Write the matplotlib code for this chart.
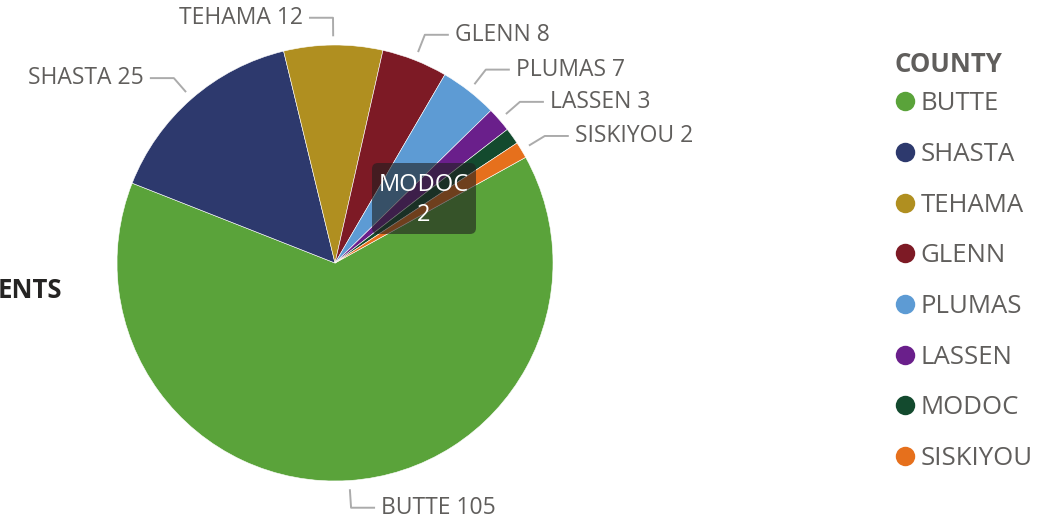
import numpy as np
import matplotlib
matplotlib.use('Agg')
import matplotlib.pyplot as plt
from matplotlib.lines import Line2D
from matplotlib.patches import FancyBboxPatch

plt.rcParams['font.family'] = ['Open Sans', 'DejaVu Sans']

# data
counties = ['BUTTE', 'SHASTA', 'TEHAMA', 'GLENN', 'PLUMAS', 'LASSEN', 'MODOC', 'SISKIYOU']
counts = [105, 25, 12, 8, 7, 3, 2, 2]
colors = ['#5AA33A', '#2D396D', '#B08F20', '#7D1A25', '#5D9BD4', '#6A1F8B', '#134A2E', '#E6701C']
show_label = [True, True, True, True, True, True, False, True]

W, H = 1064, 523
fig = plt.figure(figsize=(W / 100, H / 100), dpi=100)
ax = fig.add_axes([0, 0, 1, 1])

cx, cy, r = 335, H - 263, 218
wedges, _ = ax.pie(counts, colors=colors, startangle=29, counterclock=False,
                   center=(cx, cy), radius=r,
                   wedgeprops=dict(edgecolor='white', linewidth=0.4))
ax.set_xlim(0, W)
ax.set_ylim(0, H)
ax.set_aspect('auto')
ax.axis('off')

# leader lines + data labels
line_c = '#ABABAB'
txt_c = '#605E5C'
for w, name, val, ok in zip(wedges, counties, counts, show_label):
    if not ok:
        continue
    mid = np.deg2rad((w.theta1 + w.theta2) / 2)
    ux, uy = np.cos(mid), np.sin(mid)
    x0, y0 = cx + 1.04 * r * ux, cy + 1.04 * r * uy
    x1, y1 = cx + 1.125 * r * ux, cy + 1.125 * r * uy
    side = 1 if ux >= 0 else -1
    x2 = x1 + side * 24
    ax.plot([x0, x1, x2], [y0, y1, y1], color=line_c, lw=1.4, solid_capstyle='butt')
    ax.text(x2 + side * 6, y1, f'{name} {val}', ha='left' if side > 0 else 'right',
            va='center', fontsize=16.5, color=txt_c)

# hover tooltip on MODOC
box = FancyBboxPatch((372, H - 234), 104, 71, boxstyle='round,pad=0,rounding_size=6',
                     facecolor='#1f1f1f', alpha=0.6, edgecolor='none')
ax.add_patch(box)
ax.text(424, H - 185, 'MODOC', ha='center', va='center', fontsize=17, color='white')
ax.text(424, H - 215, '2', ha='center', va='center', fontsize=17, color='white')

# cut-off title on the left
ax.text(-2, H - 291, 'ENTS', ha='left', va='center', fontsize=18.5,
        fontweight='bold', color='#252423')

# legend
handles = [Line2D([], [], marker='o', linestyle='none', markersize=14,
                  markerfacecolor=c, markeredgecolor='none') for c in colors]
leg = ax.legend(handles, counties, loc='upper left',
                bbox_to_anchor=(886 / W, 1 - 81 / H), frameon=False,
                fontsize=18.5, labelspacing=1.0, handlelength=0.7,
                handletextpad=0.25, borderaxespad=0)
for t in leg.get_texts():
    t.set_color(txt_c)
ax.text(895, H - 64, 'COUNTY', ha='left', va='center', fontsize=18.5,
        fontweight='bold', color=txt_c)

fig.savefig('out.png', dpi=100)
